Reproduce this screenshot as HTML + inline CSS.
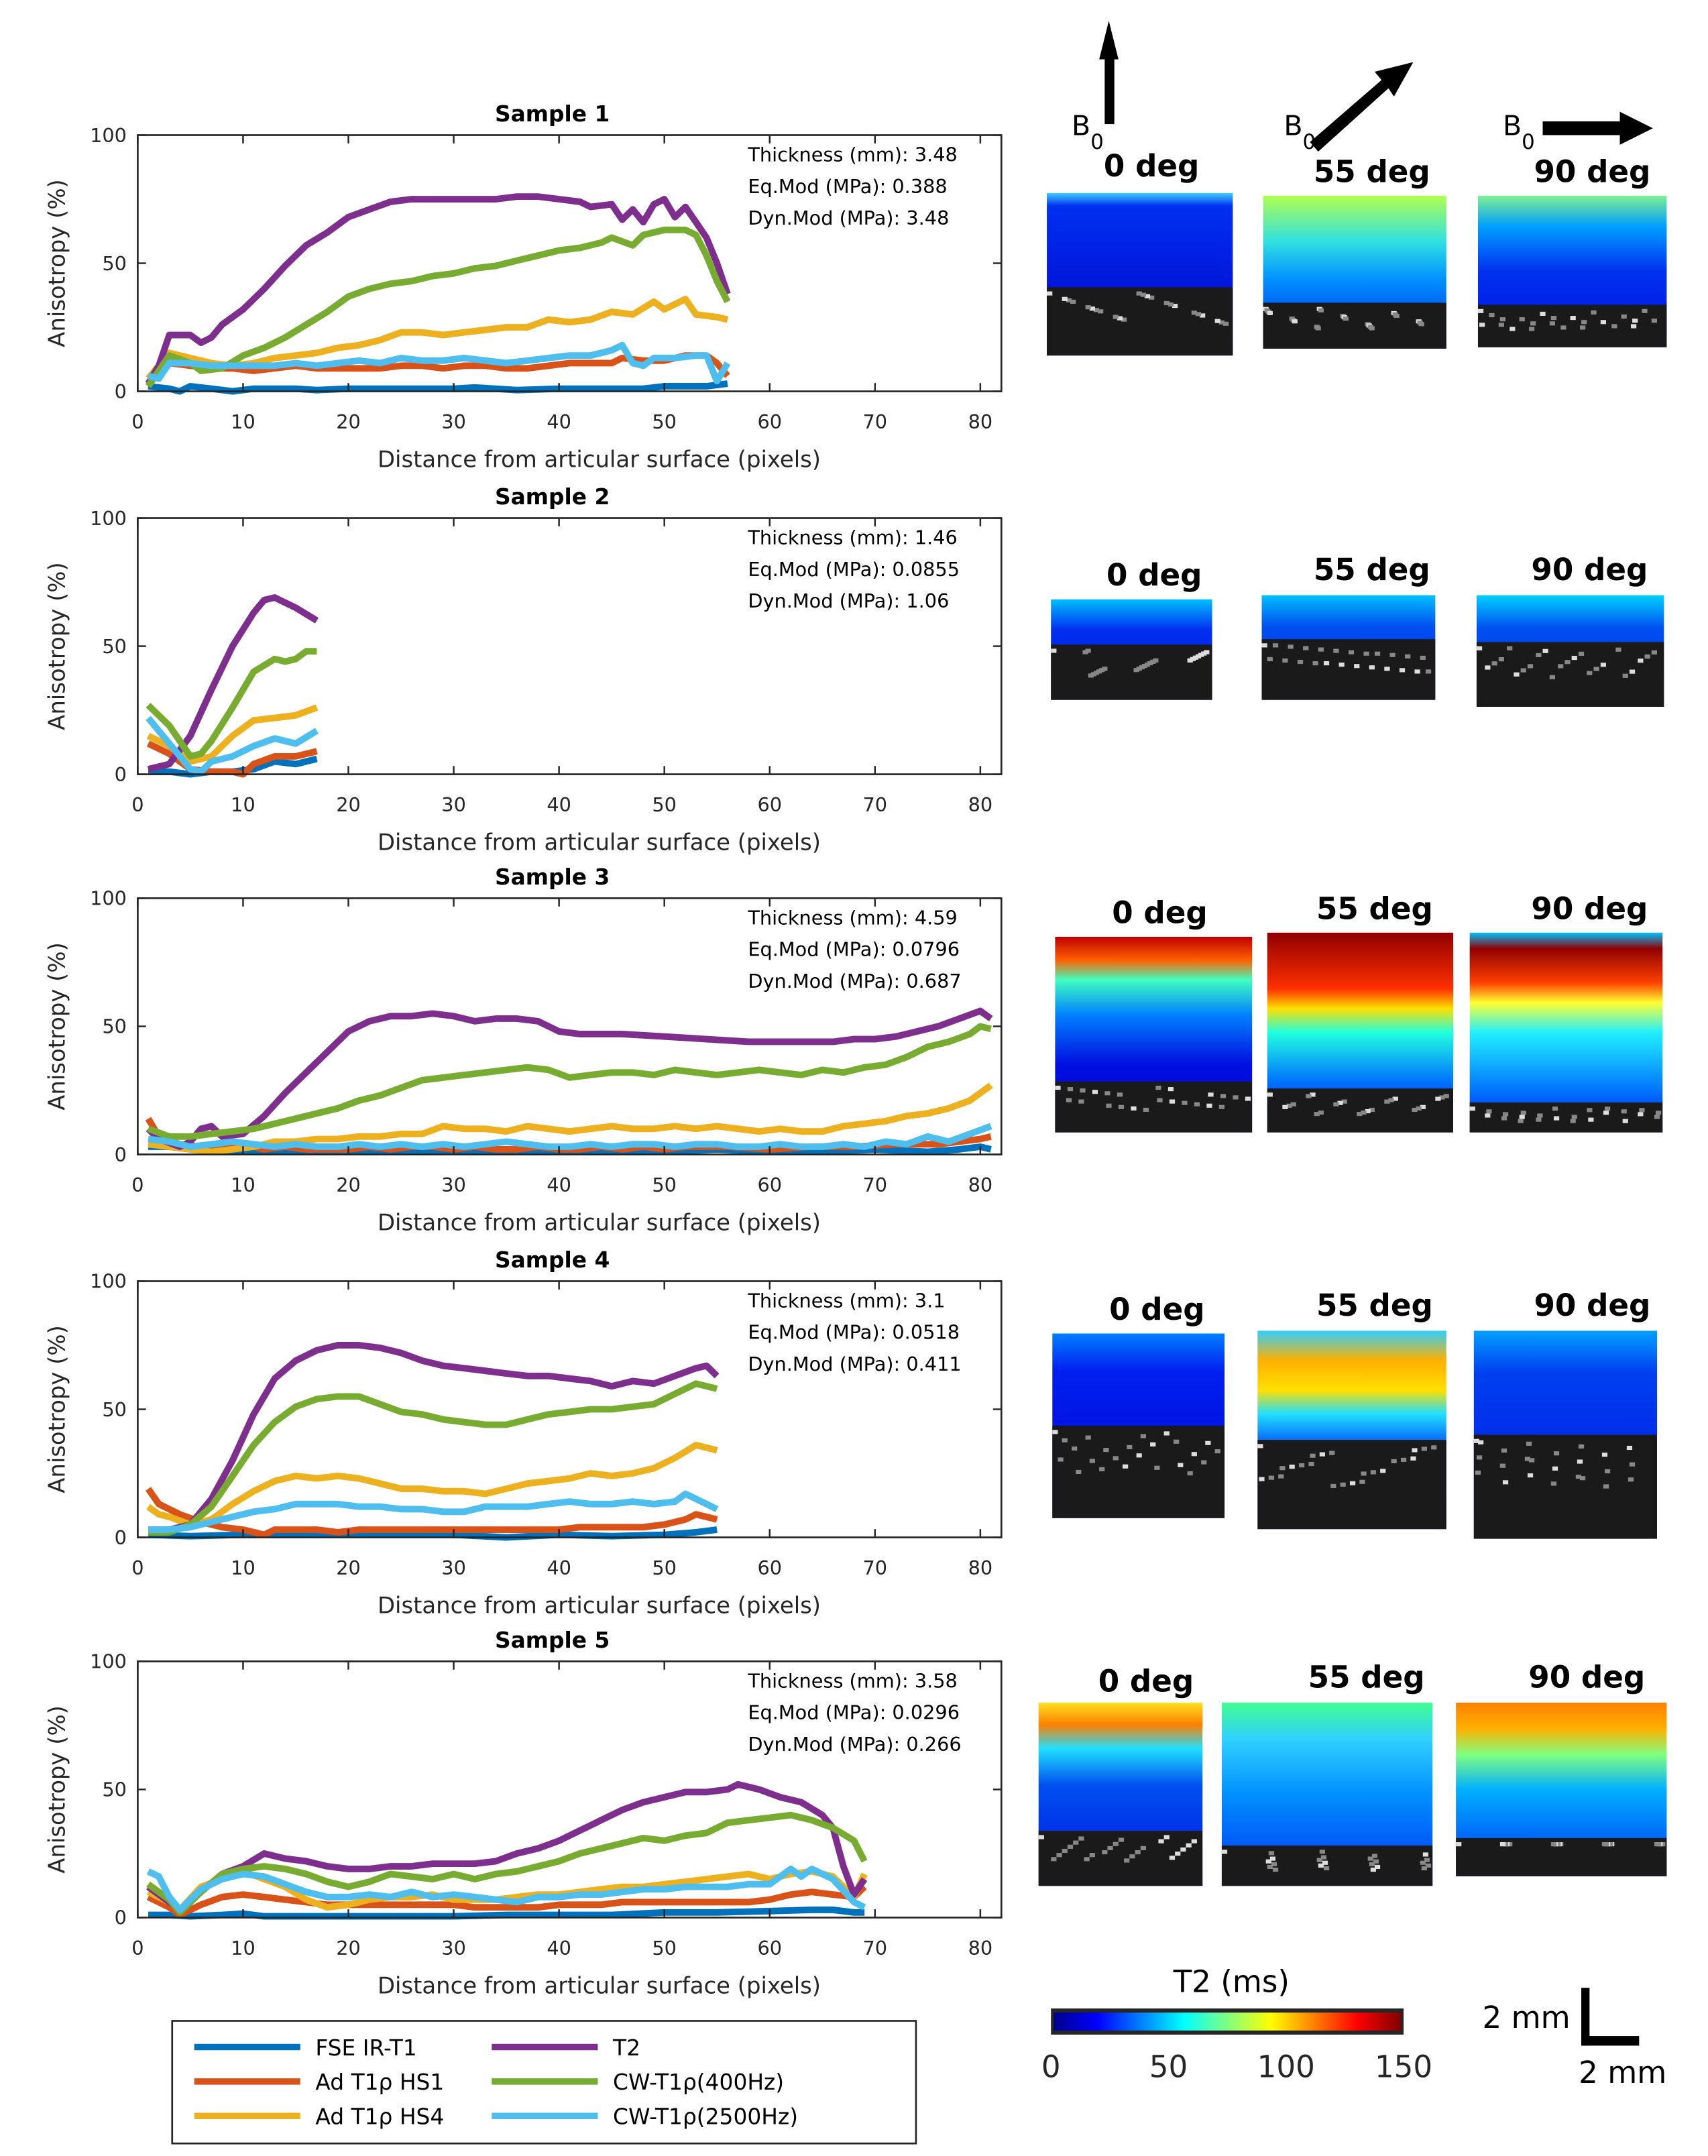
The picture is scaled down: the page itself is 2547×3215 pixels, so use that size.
<!DOCTYPE html>
<html><head><meta charset="utf-8"><style>
html,body{margin:0;padding:0;background:#fff;}
svg{display:block;font-family:"DejaVu Sans","Liberation Sans",sans-serif;}
</style></head><body>
<svg id="fig" width="2547" height="3215" viewBox="0 0 1240 1565" xmlns="http://www.w3.org/2000/svg">
<defs>
<linearGradient id="cbar" x1="0" x2="1" y1="0" y2="0">
<stop offset="0" stop-color="#00008f"/><stop offset="0.125" stop-color="#0000ff"/><stop offset="0.375" stop-color="#00ffff"/><stop offset="0.625" stop-color="#ffff00"/><stop offset="0.875" stop-color="#ff0000"/><stop offset="1" stop-color="#800000"/>
</linearGradient>
</defs>
<g id="charts"></g>
<g id="maps"></g>
</svg>
<script>
// ---- data ----
const xTicks = [0,10,20,30,40,50,60,70,80];
const yTicks = [0,50,100];
const seriesNames = ["FSE IR-T1","Ad T1\u03c1 HS1","Ad T1\u03c1 HS4","T2","CW-T1\u03c1 (400Hz)","CW-T1\u03c1 (2500Hz)"];
const sampleTitles = ["Sample 1","Sample 2","Sample 3","Sample 4","Sample 5"];
const thickness = ["3.48","1.46","4.59","3.1","3.58"];
const eqMod = ["0.388","0.0855","0.0796","0.0518","0.0296"];
const dynMod = ["3.48","1.06","0.687","0.411","0.266"];

const s1_fse = [[1,2],[3,1],[4,0],[5,2],[7,1],[9,0],[11,1],[15,1],[17,0.5],[20,1],[25,1],[30,1],[32,1.5],[36,0.5],[40,1],[44,1],[48,1],[50,2],[54,2],[56,3]];
const s1_hs1 = [[1,3],[3,11],[5,10],[7,9],[9,9],[11,8],[13,9],[15,10],[17,9],[19,9],[21,9],[23,9],[25,10],[27,10],[29,9],[31,10],[33,10],[35,9],[37,9],[39,10],[41,11],[43,11],[45,11],[46,13],[48,12],[50,12],[52,14],[54,14],[55,11],[56,6]];
const s1_hs4 = [[1,5],[3,15],[5,13],[7,11],[9,10],[11,11],[13,13],[15,14],[17,15],[19,17],[21,18],[23,20],[25,23],[27,23],[29,22],[31,23],[33,24],[35,25],[37,25],[39,28],[41,27],[43,28],[45,31],[47,30],[49,35],[50,32],[52,36],[53,30],[55,29],[56,28]];
const s1_t2 = [[1,3],[2,10],[3,22],[4,22],[5,22],[6,19],[7,21],[8,26],[10,32],[12,40],[14,49],[16,57],[18,62],[20,68],[22,71],[24,74],[26,75],[28,75],[30,75],[32,75],[34,75],[36,76],[38,76],[40,75],[42,74],[43,72],[45,73],[46,67],[47,71],[48,66],[49,73],[50,75],[51,68],[52,72],[53,66],[54,60],[55,50],[56,38]];
const s1_cw400 = [[1,2],[3,14],[5,11],[6,8],[8,9],[10,14],[12,17],[14,21],[16,26],[18,31],[20,37],[22,40],[24,42],[26,43],[28,45],[30,46],[32,48],[34,49],[36,51],[38,53],[40,55],[42,56],[44,58],[45,60],[47,57],[48,61],[50,63],[52,63],[53,61],[54,53],[55,43],[56,35]];
const s1_cw2500 = [[1,6],[2,5],[3,11],[5,11],[7,10],[9,10],[11,10],[13,10],[15,11],[17,10],[19,11],[21,12],[23,11],[25,13],[27,12],[29,12],[31,13],[33,12],[35,11],[37,12],[39,13],[41,14],[43,14],[45,16],[46,18],[47,11],[48,10],[49,13],[51,13],[53,14],[54,14],[55,4],[56,11]];

const s2_fse = [[1,1],[3,1],[5,0],[7,1],[9,1],[11,2],[13,5],[15,4],[17,6]];
const s2_hs1 = [[1,12],[3,8],[5,2],[7,1],[9,1],[10,0],[11,4],[13,7],[15,7],[17,9]];
const s2_hs4 = [[1,15],[3,11],[5,5],[7,7],[9,15],[11,21],[13,22],[15,23],[17,26]];
const s2_t2 = [[1,2],[3,4],[5,15],[7,33],[9,50],[11,63],[12,68],[13,69],[15,65],[17,60]];
const s2_cw400 = [[1,27],[3,19],[5,7],[6,8],[7,13],[9,26],[11,40],[13,45],[14,44],[15,45],[16,48],[17,48]];
const s2_cw2500 = [[1,22],[3,12],[5,2],[6,1],[7,5],[9,7],[11,11],[13,14],[15,12],[17,17]];

const s3_fse = [[1,3],[3,3],[5,2],[8,1],[10,1],[15,1],[20,1],[25,1],[30,1],[35,1],[40,1],[45,1],[50,1],[55,2],[60,1],[65,1],[70,2],[75,1],[78,2],[80,3],[81,2]];
const s3_hs1 = [[1,14],[2,7],[4,4],[6,3],[8,3],[10,4],[12,2],[14,3],[16,2],[18,2],[20,2],[22,3],[24,2],[26,3],[28,3],[30,2],[32,3],[34,2],[36,2],[38,3],[40,2],[42,2],[44,3],[46,2],[48,3],[50,2],[52,3],[56,3],[60,2],[64,3],[68,3],[72,4],[76,4],[78,5],[80,6],[81,7]];
const s3_hs4 = [[1,4],[3,3],[5,2],[7,1],[9,2],[11,3],[13,5],[15,5],[17,6],[19,6],[21,7],[23,7],[25,8],[27,8],[29,11],[31,10],[33,10],[35,9],[37,11],[39,10],[41,9],[43,10],[45,11],[47,10],[49,10],[51,11],[53,10],[55,11],[57,10],[59,9],[61,10],[63,9],[65,9],[67,11],[69,12],[71,13],[73,15],[75,16],[77,18],[79,21],[81,27]];
const s3_t2 = [[1,10],[2,6],[4,3],[5,5],[6,10],[7,11],[8,7],[10,8],[12,15],[14,24],[16,32],[18,40],[20,48],[22,52],[24,54],[26,54],[28,55],[30,54],[32,52],[34,53],[36,53],[38,52],[40,48],[42,47],[44,47],[46,47],[50,46],[54,45],[58,44],[62,44],[64,44],[66,44],[68,45],[70,45],[72,46],[74,48],[76,50],[78,53],[80,56],[81,53]];
const s3_cw400 = [[1,10],[3,7],[5,7],[7,8],[9,9],[11,10],[13,12],[15,14],[17,16],[19,18],[21,21],[23,23],[25,26],[27,29],[29,30],[31,31],[33,32],[35,33],[37,34],[39,33],[41,30],[43,31],[45,32],[47,32],[49,31],[51,33],[53,32],[55,31],[57,32],[59,33],[61,32],[63,31],[65,33],[67,32],[69,34],[71,35],[73,38],[75,42],[77,44],[79,47],[80,50],[81,49]];
const s3_cw2500 = [[1,6],[3,5],[5,3],[7,4],[9,5],[11,4],[13,3],[15,4],[17,3],[19,3],[21,4],[23,3],[25,4],[27,3],[29,4],[31,3],[33,4],[35,5],[37,4],[39,3],[41,3],[43,4],[45,3],[47,4],[49,4],[51,3],[53,4],[55,4],[57,3],[59,3],[61,4],[63,3],[65,3],[67,4],[69,3],[71,5],[73,4],[75,7],[77,5],[79,8],[81,11]];

const s4_fse = [[1,1],[5,0.5],[10,1],[15,1],[20,1],[25,1],[30,1],[35,0],[40,1],[45,0.5],[50,1],[53,2],[55,3]];
const s4_hs1 = [[1,19],[2,13],[4,9],[6,6],[8,4],[10,3],[12,1],[13,3],[15,3],[17,3],[19,2],[21,3],[25,3],[30,3],[35,3],[40,3],[42,4],[45,4],[48,4],[50,5],[52,7],[53,9],[55,7]];
const s4_hs4 = [[1,12],[2,9],[3,8],[5,5],[7,7],[9,13],[11,18],[13,22],[15,24],[17,23],[19,24],[21,23],[23,21],[25,19],[27,19],[29,18],[31,18],[33,17],[35,19],[37,21],[39,22],[41,23],[43,25],[45,24],[47,25],[49,27],[51,31],[53,36],[55,34]];
const s4_t2 = [[1,3],[3,3],[5,5],[7,15],[9,30],[11,48],[13,62],[15,69],[17,73],[19,75],[21,75],[23,74],[25,72],[27,69],[29,67],[31,66],[33,65],[35,64],[37,63],[39,63],[41,62],[43,61],[45,59],[47,61],[49,60],[51,63],[53,66],[54,67],[55,63]];
const s4_cw400 = [[1,2],[3,2],[5,5],[7,12],[9,24],[11,36],[13,45],[15,51],[17,54],[19,55],[21,55],[23,52],[25,49],[27,48],[29,46],[31,45],[33,44],[35,44],[37,46],[39,48],[41,49],[43,50],[45,50],[47,51],[49,52],[51,56],[53,60],[55,58]];
const s4_cw2500 = [[1,3],[3,3],[5,4],[7,6],[9,8],[11,10],[13,11],[15,13],[17,13],[19,13],[21,12],[23,12],[25,11],[27,11],[29,10],[31,10],[33,12],[35,12],[37,12],[39,13],[41,14],[43,13],[45,13],[47,14],[49,13],[51,14],[52,17],[53,15],[55,11]];

const s5_fse = [[1,1],[3,1],[5,0.5],[8,1],[10,1.5],[12,0.5],[15,0.5],[20,0.5],[25,0.5],[30,0.5],[35,1],[40,1],[45,1],[50,2],[55,2],[60,2.5],[64,3],[66,3],[68,2],[69,2]];
const s5_hs1 = [[1,8],[3,4],[4,1],[6,5],[8,8],[10,9],[12,8],[14,7],[16,6],[18,5],[20,5],[22,5],[24,5],[26,5],[28,5],[30,5],[32,4],[34,4],[36,4],[38,4],[40,5],[42,5],[44,5],[46,6],[48,6],[50,6],[52,6],[54,6],[56,6],[58,6],[60,7],[62,9],[64,10],[66,9],[68,8],[69,12]];
const s5_hs4 = [[1,10],[3,6],[4,3],[6,12],[8,15],[10,18],[12,15],[14,12],[16,7],[18,4],[20,5],[22,7],[24,8],[26,8],[28,9],[30,7],[32,7],[34,7],[36,8],[38,9],[40,9],[42,10],[44,11],[46,12],[48,12],[50,13],[52,14],[54,15],[56,16],[58,17],[60,15],[62,17],[64,18],[66,16],[68,8],[69,17]];
const s5_t2 = [[1,12],[2,9],[4,3],[6,10],[8,17],[10,20],[12,25],[14,23],[16,22],[18,20],[20,19],[22,19],[24,20],[26,20],[28,21],[30,21],[32,21],[34,22],[36,25],[38,27],[40,30],[42,34],[44,38],[46,42],[48,45],[50,47],[52,49],[54,49],[56,50],[57,52],[59,50],[61,47],[63,45],[65,40],[66,35],[67,20],[68,9],[69,15]];
const s5_cw400 = [[1,13],[3,7],[4,2],[6,10],[8,17],[10,19],[12,20],[14,19],[16,17],[18,14],[20,12],[22,14],[24,17],[26,16],[28,15],[30,17],[32,15],[34,17],[36,18],[38,20],[40,22],[42,25],[44,27],[46,29],[48,31],[50,30],[52,32],[54,33],[56,37],[58,38],[60,39],[62,40],[64,38],[66,35],[68,30],[69,22]];
const s5_cw2500 = [[1,18],[2,16],[3,8],[4,3],[6,11],[8,15],[10,17],[12,16],[14,13],[16,10],[18,8],[20,8],[22,9],[24,8],[26,10],[28,8],[30,9],[32,8],[34,7],[36,6],[38,8],[40,8],[42,9],[44,9],[46,10],[48,11],[50,11],[52,12],[54,12],[56,12],[58,13],[60,13],[62,19],[63,16],[64,19],[66,15],[68,6],[69,4]];

const samples = [
 [s1_fse,s1_hs1,s1_hs4,s1_t2,s1_cw400,s1_cw2500],
 [s2_fse,s2_hs1,s2_hs4,s2_t2,s2_cw400,s2_cw2500],
 [s3_fse,s3_hs1,s3_hs4,s3_t2,s3_cw400,s3_cw2500],
 [s4_fse,s4_hs1,s4_hs4,s4_t2,s4_cw400,s4_cw2500],
 [s5_fse,s5_hs1,s5_hs4,s5_t2,s5_cw400,s5_cw2500]
];
const colors = ["#0072BD","#D95319","#EDB120","#7E2F8E","#77AC30","#4DBEEE"];
const panelTops = [98,376,652,930,1206];

const NS="http://www.w3.org/2000/svg";
function mk(tag,attrs,parent){const e=document.createElementNS(NS,tag);for(const k in attrs)e.setAttribute(k,attrs[k]);parent.appendChild(e);return e;}
const charts=document.getElementById('charts');
const X0=100,X1=727,XMAX=82,H=186;
function sx(v){return X0+(v/XMAX)*(X1-X0);}

samples.forEach((ser,i)=>{
  const top=panelTops[i],bot=top+H;
  function sy(v){return bot-(v/100)*H;}
  const g=mk('g',{},charts);
  
  
  const t=mk('text',{x:401,y:top-10,'text-anchor':'middle','font-size':16,'font-weight':'bold',fill:'#000'},g);
  t.textContent=sampleTitles[i];
  
  
  ser.forEach((pts,k)=>{
    const d=pts.map((p,j)=>(j?'L':'M')+sx(p[0]).toFixed(1)+' '+sy(p[1]).toFixed(1)).join(' ');
    const pl=mk('path',{d:d,fill:'none',stroke:colors[k],'stroke-width':4.8,'stroke-linejoin':'round'},g);
    
    
  });
  const bx=mk('rect',{x:X0,y:top,width:X1-X0,height:H,fill:'none',stroke:'#262626','stroke-width':1.3},g);
  
  
  xTicks.forEach(v=>{
    const x=sx(v);
    mk('line',{x1:x,x2:x,y1:bot,y2:bot-6,stroke:'#262626','stroke-width':1.2},g);
    mk('line',{x1:x,x2:x,y1:top,y2:top+6,stroke:'#262626','stroke-width':1.2},g);
    const tl=mk('text',{x:x,y:bot+27,'text-anchor':'middle','font-size':14,fill:'#262626'},g);
    tl.textContent=v;
    
    
  });
  yTicks.forEach(v=>{
    const y=sy(v);
    mk('line',{x1:X0,x2:X0+6,y1:y,y2:y,stroke:'#262626','stroke-width':1.2},g);
    mk('line',{x1:X1,x2:X1-6,y1:y,y2:y,stroke:'#262626','stroke-width':1.2},g);
    const tl=mk('text',{x:X0-8,y:y+5,'text-anchor':'end','font-size':14,fill:'#262626'},g);
    tl.textContent=v;
    
    
  });
  const xl=mk('text',{x:435,y:bot+55,'text-anchor':'middle','font-size':16.5,fill:'#262626'},g);
  xl.textContent='Distance from articular surface (pixels)';
  
  
  const yl=mk('text',{x:0,y:0,'text-anchor':'middle','font-size':16.5,fill:'#262626',transform:`translate(47,${top+H/2}) rotate(-90)`},g);
  yl.textContent='Anisotropy (%)';
  
  
  const ann=[`Thickness (mm): ${thickness[i]}`,`Eq.Mod (MPa): ${eqMod[i]}`,`Dyn.Mod (MPa): ${dynMod[i]}`];
  ann.forEach((s,j)=>{
    const a=mk('text',{x:543,y:top+19+j*23,'font-size':14,fill:'#000'},g);
    a.textContent=s;
    
    
  });
});

(function(){
  const g=mk('g',{},charts);
  
  
  mk('rect',{x:125,y:1467,width:540,height:89,fill:'#fff',stroke:'#262626','stroke-width':1.3},g);
  const pos=[[141,1486],[141,1511],[141,1536],[357,1486],[357,1511],[357,1536]];
  seriesNames.forEach((n,k)=>{
    const [x,y]=pos[k];
    mk('line',{x1:x,x2:x+77,y1:y,y2:y,stroke:colors[k],'stroke-width':4.6},g);
    const t=mk('text',{x:x+88,y:y+6,'font-size':16,fill:'#000'},g);
    t.textContent=n.replace(' (','(');
    
    
  });
})();

const maps=document.getElementById('maps');
let gid=0;
function heat(x,y,w,h,stops,grey){
  const id='hg'+(gid++);
  const lg=mk('linearGradient',{id:id,x1:0,x2:0,y1:0,y2:1},document.querySelector('defs'));
  stops.forEach(s=>mk('stop',{offset:s[0],'stop-color':s[1]},lg));
  const r=mk('rect',{x:x,y:y,width:w,height:h,fill:'url(#'+id+')'},maps);
  
  
  const gy=y+h*grey;
  mk('rect',{x:x,y:gy,width:w,height:h*(1-grey),fill:'#1a1a1a'},maps);
  for(let k=0;k<24;k++){
    const px=x+((k*37)%Math.floor(w-4)),py=gy+3+((k*13)%Math.floor(h*(1-grey)*0.45+1));
    mk('rect',{x:px,y:py,width:4,height:3,fill:k%3?'#888':'#ddd'},maps);
  }
}
function label(x,y,s){const t=mk('text',{x:x,y:y,'text-anchor':'middle','font-size':22,'font-weight':'bold',fill:'#000'},maps);t.textContent=s;}
const DR='#900000';
heat(760,140,135,118,[[0,'#40d0ff'],[0.08,'#0030f0'],[1,'#0000c8']],0.58);
heat(917,142,133,111,[[0,'#b0ff50'],[0.3,'#30e0e0'],[0.55,'#0090ff'],[1,'#0020e0']],0.7);
heat(1073,142,137,110,[[0,'#80f090'],[0.2,'#00a0ff'],[0.5,'#0030f0'],[1,'#0010e0']],0.72);
heat(763,435,117,73,[[0,'#00c0ff'],[0.3,'#0030f0'],[1,'#0010e0']],0.45);
heat(916,432,126,76,[[0,'#00c0ff'],[0.3,'#0050f0'],[1,'#0020e0']],0.42);
heat(1072,432,136,81,[[0,'#00d0ff'],[0.3,'#0050f0'],[1,'#0020e0']],0.42);
heat(766,680,143,142,[[0,'#c00000'],[0.12,'#ff6000'],[0.22,'#40ffc0'],[0.4,'#0080ff'],[0.65,'#0010e0'],[1,'#0000d0']],0.74);
heat(920,677,135,145,[[0,DR],[0.28,'#ff3000'],[0.38,'#ffe000'],[0.5,'#20ffe0'],[0.75,'#0070ff'],[1,'#0010e0']],0.78);
heat(1067,677,140,145,[[0,'#00c0ff'],[0.08,DR],[0.25,'#ff4000'],[0.35,'#ffff30'],[0.5,'#20f0ff'],[0.8,'#0070ff'],[1,'#0010e0']],0.85);
heat(764,968,125,134,[[0,'#0080ff'],[0.2,'#0020f0'],[1,'#0000d0']],0.5);
heat(913,966,137,144,[[0,'#30d0ff'],[0.15,'#ffb000'],[0.3,'#ffe000'],[0.42,'#20e0ff'],[0.6,'#0040ff'],[1,'#0010e0']],0.55);
heat(1070,966,133,151,[[0,'#00a0ff'],[0.2,'#0040f0'],[1,'#0010e0']],0.5);
heat(754,1236,119,133,[[0,'#ffe020'],[0.12,'#ff8000'],[0.25,'#20e0ff'],[0.45,'#0050f0'],[1,'#0010e0']],0.7);
heat(887,1236,153,133,[[0,'#40ff90'],[0.2,'#30d0ff'],[0.5,'#0090ff'],[1,'#0030f0']],0.78);
heat(1057,1236,153,126,[[0,'#ff8000'],[0.15,'#ffb000'],[0.3,'#80ff80'],[0.5,'#00b0ff'],[1,'#0030f0']],0.78);
label(836,128,'0 deg');label(996,132,'55 deg');label(1156,132,'90 deg');
label(838,425,'0 deg');label(996,421,'55 deg');label(1154,421,'90 deg');
label(842,670,'0 deg');label(998,667,'55 deg');label(1154,667,'90 deg');
label(840,958,'0 deg');label(998,955,'55 deg');label(1156,955,'90 deg');
label(832,1228,'0 deg');label(992,1225,'55 deg');label(1152,1225,'90 deg');

(function(){
  const g=mk('g',{},maps);
  
  
  mk('rect',{x:802,y:40,width:7,height:50,fill:'#000'},g);
  mk('polygon',{points:'798,43 805,15 812,43',fill:'#000'},g);
  mk('polygon',{points:'957,110 951,103 1003,58 998,52 1026,45 1012,70 1008,64',fill:'#000'},g);
  mk('rect',{x:1120,y:88,width:60,height:10,fill:'#000'},g);
  mk('polygon',{points:'1176,81 1200,93 1176,105',fill:'#000'},g);
  [[778,98],[932,98],[1091,98]].forEach(p=>{
    const t=mk('text',{x:p[0],y:p[1],'font-size':20,fill:'#000'},g);
    t.textContent='B';
    const s=mk('tspan',{dy:10,'font-size':15},t);
    s.textContent='0';
  });
})();

(function(){
  const g=mk('g',{},maps);
  
  
  mk('rect',{x:763,y:1458,width:256,height:19,fill:'#262626'},g);
  mk('rect',{x:765,y:1461,width:252,height:13,fill:'url(#cbar)'},g);
  const cbTicks=[0,50,100,150];
  cbTicks.forEach(v=>{
    const x=763+v/150*256;
    const t=mk('text',{x:x,y:1508,'text-anchor':'middle','font-size':22,fill:'#262626'},g);
    t.textContent=v;
    
    
  });
  const tt=mk('text',{x:894,y:1446,'text-anchor':'middle','font-size':22,fill:'#000'},g);
  tt.textContent='T2 (ms)';
  
  
  mk('rect',{x:1148,y:1443,width:6,height:42,fill:'#000'},g);
  mk('rect',{x:1148,y:1478,width:42,height:7,fill:'#000'},g);
  const a=mk('text',{x:1140,y:1472,'text-anchor':'end','font-size':22,fill:'#000'},g);
  a.textContent='2 mm';
  const b=mk('text',{x:1178,y:1512,'text-anchor':'middle','font-size':22,fill:'#000'},g);
  b.textContent='2 mm';
})();
</script>
</body></html>
